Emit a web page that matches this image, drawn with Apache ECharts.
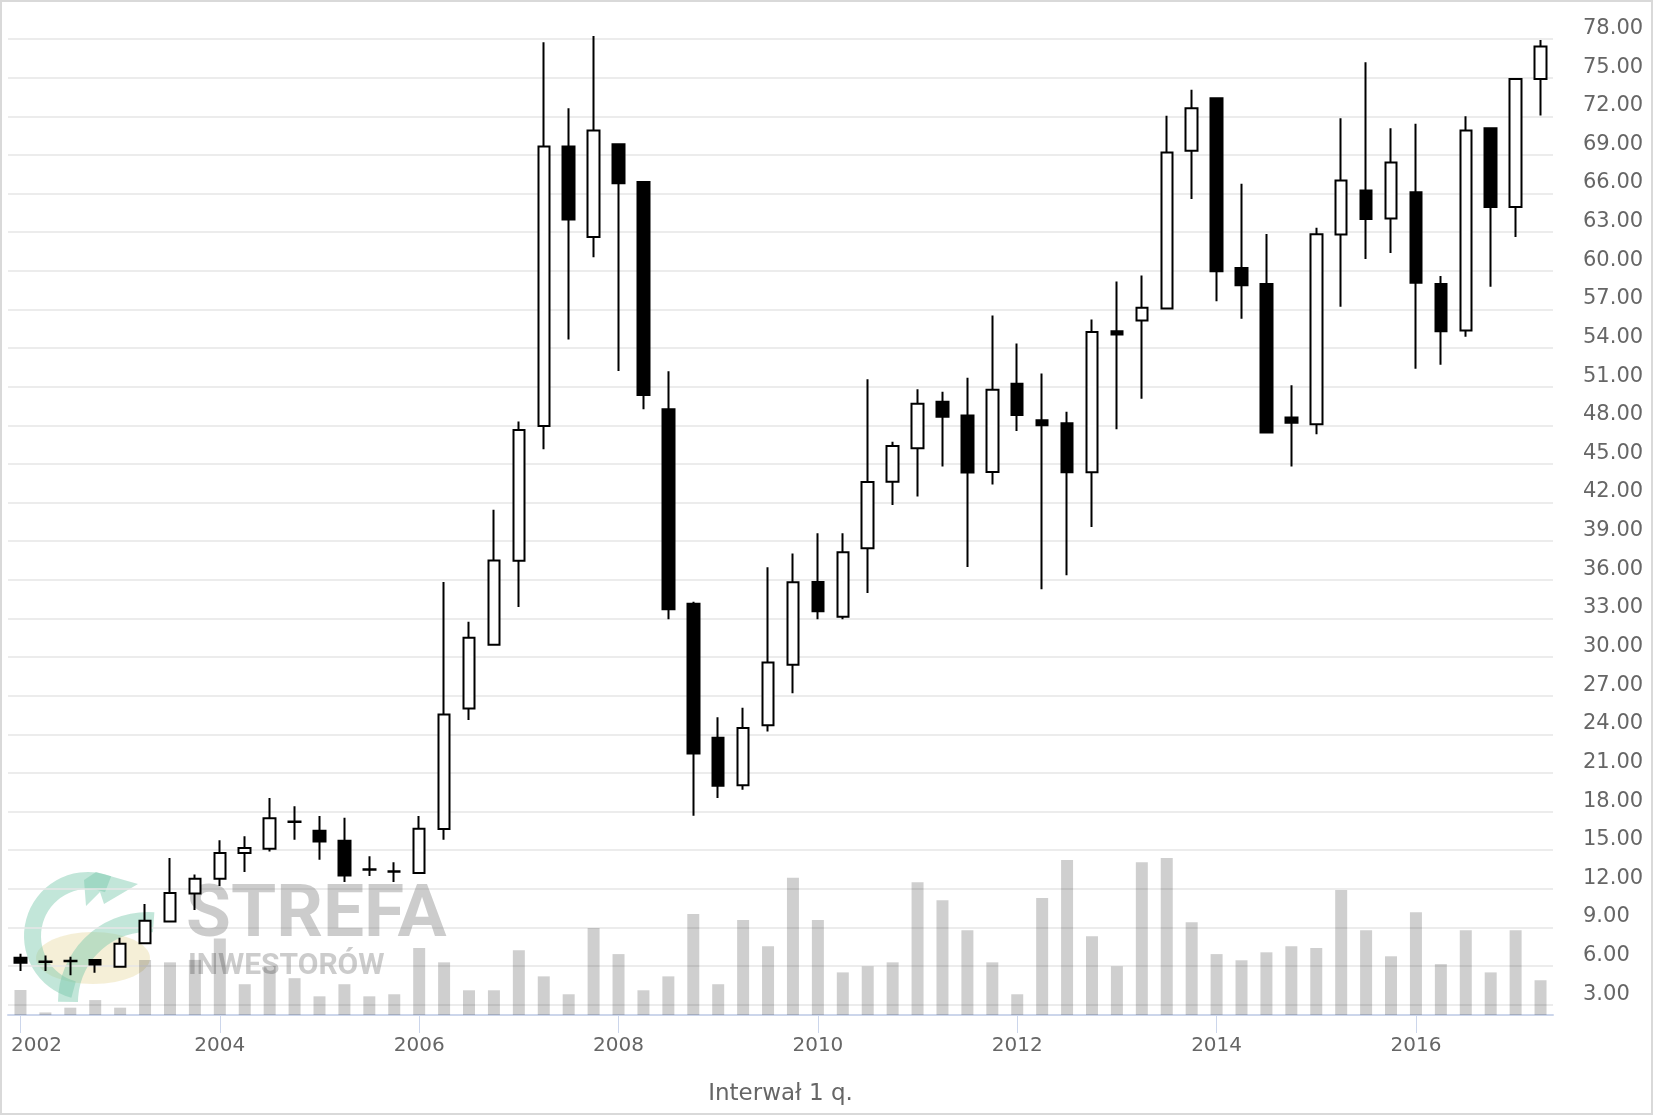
<!DOCTYPE html>
<html>
<head>
<meta charset="utf-8">
<script src="https://cdn.jsdelivr.net/npm/echarts@6/dist/echarts.min.js"></script>
<style>
html,body{margin:0;padding:0;background:#fff;}
#chart{width:1654px;height:1116px;}
</style>
</head>
<body>
<div id="chart"></div>
<script>
// Quarterly categories (2002 Q1 .. 2017 Q2)
const quarters = [
  '2002 Q1','2002 Q2','2002 Q3','2002 Q4','2003 Q1','2003 Q2','2003 Q3','2003 Q4',
  '2004 Q1','2004 Q2','2004 Q3','2004 Q4','2005 Q1','2005 Q2','2005 Q3','2005 Q4',
  '2006 Q1','2006 Q2','2006 Q3','2006 Q4','2007 Q1','2007 Q2','2007 Q3','2007 Q4',
  '2008 Q1','2008 Q2','2008 Q3','2008 Q4','2009 Q1','2009 Q2','2009 Q3','2009 Q4',
  '2010 Q1','2010 Q2','2010 Q3','2010 Q4','2011 Q1','2011 Q2','2011 Q3','2011 Q4',
  '2012 Q1','2012 Q2','2012 Q3','2012 Q4','2013 Q1','2013 Q2','2013 Q3','2013 Q4',
  '2014 Q1','2014 Q2','2014 Q3','2014 Q4','2015 Q1','2015 Q2','2015 Q3','2015 Q4',
  '2016 Q1','2016 Q2','2016 Q3','2016 Q4','2017 Q1','2017 Q2'
];
const openPrices = [
  6.65,6.36,6.41,6.47,5.95,7.78,9.47,11.64,
  12.78,14.78,15.12,17.22,16.50,15.73,13.52,13.32,
  13.23,16.64,26.01,30.96,37.47,47.95,69.65,62.62,
  69.83,66.89,49.24,34.13,23.73,20.04,24.71,29.41,
  35.83,33.13,38.44,43.61,46.22,49.83,48.75,44.38,
  51.23,48.40,48.16,44.35,55.30,56.14,57.07,69.32,
  73.40,60.22,58.98,48.60,48.08,62.81,66.24,64.05,
  66.09,58.98,55.36,71.07,64.95,74.90
];
const closePrices = [
  6.26,6.32,6.37,6.13,7.73,9.52,11.67,12.78,
  14.78,15.17,17.48,17.18,15.67,13.03,13.48,13.36,
  16.67,25.54,31.49,37.50,47.64,69.65,63.99,70.89,
  66.79,50.35,33.72,22.51,20.01,24.48,29.57,35.80,
  33.55,38.14,43.60,46.40,49.68,48.67,44.33,50.76,
  48.80,48.00,44.35,55.24,55.05,57.12,69.19,72.63,
  59.96,58.88,47.43,48.20,62.83,67.02,64.02,68.41,
  59.06,55.31,70.89,64.95,74.90,77.41
];
const lowPrices = [
  5.61,5.61,5.28,5.48,5.95,7.78,9.47,10.36,
  12.22,13.31,14.89,15.81,14.25,12.53,13.00,12.53,
  13.23,15.81,25.12,30.96,33.88,46.14,54.67,61.05,
  52.21,49.24,32.94,17.67,19.06,19.70,24.21,27.18,
  32.94,32.94,34.97,41.80,42.47,44.80,37.00,43.40,
  47.56,35.27,36.36,40.10,47.69,50.07,57.07,65.57,
  57.64,56.27,47.43,44.80,47.30,57.20,60.92,61.38,
  52.39,52.70,54.87,58.75,62.63,72.06
];
const highPrices = [
  6.96,6.83,6.72,6.47,8.20,10.82,14.40,13.11,
  15.78,16.09,19.06,18.42,17.65,17.51,14.53,14.06,
  17.65,35.83,32.74,41.44,48.30,77.74,72.63,78.23,
  69.83,66.89,52.19,34.30,25.32,26.07,36.97,38.05,
  39.61,39.61,51.57,46.73,50.79,50.61,51.70,56.53,
  54.36,52.03,49.06,56.22,59.16,59.63,72.03,74.05,
  73.40,66.76,62.86,51.10,63.35,71.85,76.19,71.07,
  71.41,59.60,72.00,71.07,74.90,77.92
];
// Volume (relative units)
const volumes = [
  1.94,0.20,0.57,1.16,0.57,4.27,4.09,4.28,
  5.95,2.39,3.81,2.86,1.45,2.39,1.45,1.61,
  5.20,4.09,1.92,1.92,5.03,3.00,1.61,6.76,
  4.73,1.92,3.00,7.84,2.39,7.37,5.34,10.65,
  7.37,3.31,3.78,4.09,10.31,8.92,6.59,4.09,
  1.61,9.09,12.04,6.12,3.78,11.87,12.20,7.20,
  4.73,4.25,4.87,5.34,5.20,9.70,6.59,4.56,
  7.98,3.95,6.59,3.31,6.59,2.70
];
const priceTicks = { min: 2.2, max: 78, step: 3 };
const axisTitle = 'Interwał 1 q.';
const watermark = ['STREFA', 'INWESTORÓW'];

const candleData = quarters.map((q, i) => [openPrices[i], closePrices[i], lowPrices[i], highPrices[i]]);

const chart = echarts.init(document.getElementById('chart'), null, { renderer: 'canvas' });
const yearTick = (i) => i % 8 === 0;
const font = '"DejaVu Sans", sans-serif';
const teal = 'rgba(120,200,170,0.45)';

chart.setOption({
  animation: false,
  backgroundColor: '#ffffff',
  grid: { left: 8, right: 101, top: 39, bottom: 101, containLabel: false },
  xAxis: {
    type: 'category',
    data: quarters,
    boundaryGap: true,
    axisLine: { show: true, lineStyle: { color: '#ccd6eb', width: 2 } },
    axisTick: { show: true, alignWithLabel: true, interval: (i) => yearTick(i), length: 18, lineStyle: { color: '#ccd6eb', width: 1 } },
    axisLabel: {
      interval: (i) => yearTick(i),
      formatter: (v, i) => i === 0 ? '{f|' + v.slice(0, 4) + '}' : v.slice(0, 4),
      color: '#666666', fontFamily: font, fontSize: 20, margin: 21,
      rich: { f: { padding: [0, 0, 0, 32], color: '#666666', fontFamily: font, fontSize: 20 } }
    },
    splitLine: { show: false },
    name: axisTitle,
    nameLocation: 'middle',
    nameGap: 68,
    nameTextStyle: { color: '#666666', fontFamily: font, fontSize: 23 }
  },
  yAxis: [
    {
      type: 'value',
      position: 'right',
      min: priceTicks.min,
      max: priceTicks.max,
      splitNumber: 25,
      minInterval: priceTicks.step,
      maxInterval: priceTicks.step,
      scale: true,
      axisLine: { show: false },
      axisTick: { show: false },
      axisLabel: {
        formatter: (v) => Math.abs(v / 3 - Math.round(v / 3)) < 1e-6 ? v.toFixed(2) : '',
        color: '#666666', fontFamily: font, fontSize: 21, margin: 30,
        verticalAlign: 'bottom', padding: [0, 0, 0, 0]
      },
      splitLine: { show: true, lineStyle: { color: '#e6e6e6', width: 1.5 } }
    },
    {
      type: 'value',
      min: 0,
      max: priceTicks.max - priceTicks.min,
      show: false,
      splitLine: { show: false }
    }
  ],
  graphic: [
    { type: 'rect', z: 100, silent: true, shape: { x: 1, y: 1, width: 1651, height: 1113 }, style: { fill: 'none', stroke: '#d9d9d9', lineWidth: 2 } },
    { type: 'ellipse', z: 0, silent: true, shape: { cx: 93, cy: 958, rx: 57, ry: 26 }, style: { fill: 'rgba(225,210,140,0.35)' } },
    { type: 'sector', z: 0, silent: true, shape: { cx: 88, cy: 936, r: 64, r0: 47, startAngle: -4.45, endAngle: -1.2, clockwise: true }, style: { fill: teal } },
    { type: 'polygon', z: 0, silent: true, shape: { points: [[96, 872], [138, 884], [104, 904], [100, 892], [86, 906], [84, 880]] }, style: { fill: teal } },
    { type: 'sector', z: 0, silent: true, shape: { cx: 148, cy: 1002, r: 90, r0: 70, startAngle: -3.14, endAngle: -1.5, clockwise: true }, style: { fill: teal } },
    { type: 'text', z: 1, silent: true, left: 186, top: 881, style: { text: watermark[0], fill: 'rgba(120,120,120,0.38)', font: 'bold 73px Roboto, sans-serif' } },
    { type: 'text', z: 1, silent: true, left: 188, top: 951, style: { text: watermark[1], fill: 'rgba(120,120,120,0.38)', font: 'bold 30px Roboto, sans-serif' } }
  ],
  series: [
    {
      type: 'bar',
      yAxisIndex: 1,
      data: volumes,
      barWidth: 12,
      itemStyle: { color: 'rgba(0,0,0,0.19)' },
      z: 2
    },
    {
      type: 'candlestick',
      yAxisIndex: 0,
      data: candleData,
      barWidth: 12,
      clip: false,
      itemStyle: {
        color: '#ffffff', color0: '#000000',
        borderColor: '#000000', borderColor0: '#000000',
        borderWidth: 2
      },
      z: 3
    }
  ]
});
</script>
</body>
</html>
